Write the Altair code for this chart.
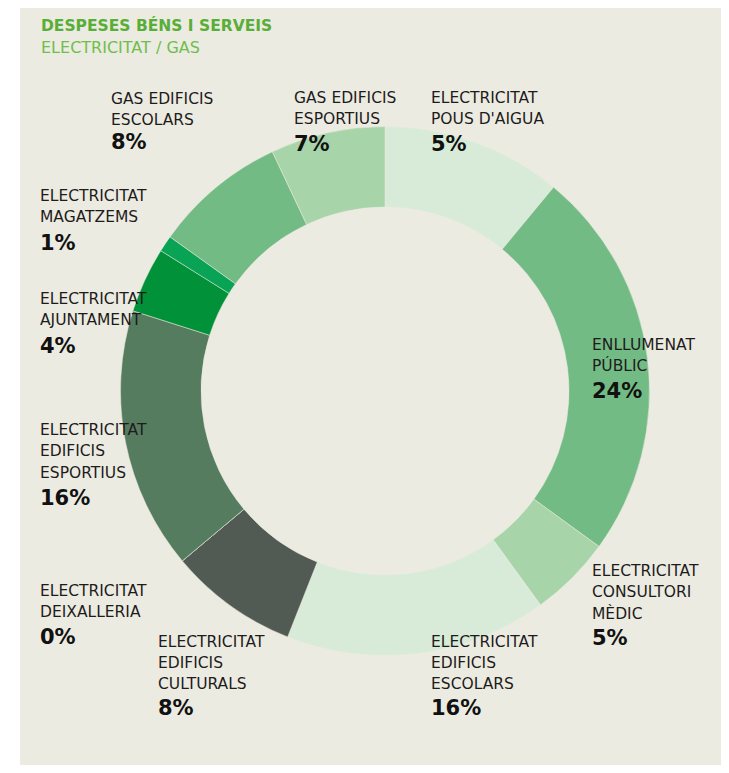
import altair as alt
import pandas as pd

# ---- data ----
categories = [
    "ELECTRICITAT POUS D'AIGUA",
    "ENLLUMENAT PÚBLIC",
    "ELECTRICITAT CONSULTORI MÈDIC",
    "ELECTRICITAT EDIFICIS ESCOLARS",
    "ELECTRICITAT EDIFICIS CULTURALS",
    "ELECTRICITAT DEIXALLERIA",
    "ELECTRICITAT EDIFICIS ESPORTIUS",
    "ELECTRICITAT AJUNTAMENT",
    "ELECTRICITAT MAGATZEMS",
    "GAS EDIFICIS ESCOLARS",
    "GAS EDIFICIS ESPORTIUS",
]
# angular share of each slice as drawn
shares = [11.0, 24.0, 5.0, 16.0, 7.9, 0.0, 16.0, 4.0, 1.0, 8.1, 7.0]
# percentages as printed on the labels
pct_labels = ["5%", "24%", "5%", "16%", "8%", "0%", "16%", "4%", "1%", "8%", "7%"]
label_text = [
    "ELECTRICITAT\nPOUS D'AIGUA",
    "ENLLUMENAT\nPÚBLIC",
    "ELECTRICITAT\nCONSULTORI\nMÈDIC",
    "ELECTRICITAT\nEDIFICIS\nESCOLARS",
    "ELECTRICITAT\nEDIFICIS\nCULTURALS",
    "ELECTRICITAT\nDEIXALLERIA",
    "ELECTRICITAT\nEDIFICIS\nESPORTIUS",
    "ELECTRICITAT\nAJUNTAMENT",
    "ELECTRICITAT\nMAGATZEMS",
    "GAS EDIFICIS\nESCOLARS",
    "GAS EDIFICIS\nESPORTIUS",
]
colors = [
    "#d8ebd8", "#73bb84", "#a8d4aa", "#d8ebd8", "#525b53", "#55705a",
    "#567c5f", "#009139", "#08a355", "#73bb84", "#a8d4aa",
]

# ---- layout (label anchors, page-ish pixels) ----
label_x = [432, 593, 593, 432, 159, 41, 41, 41, 41, 112, 295]
label_y1 = [97.5, 344, 570.5, 641, 641, 590, 429.5, 298, 195.5, 98, 97.5]
pct_y = [143, 390, 637, 707, 707, 636, 497, 345.5, 242, 141, 143]

W, H = 713, 757
OFF = 8
NAME_FS = 15.5
PCT_FS = 21
BG = "#ecebe1"

df = pd.DataFrame({
    "cat": categories,
    "share": shares,
    "order": list(range(len(categories))),
    "pct": pct_labels,
    "name": label_text,
    "lx": [v - OFF - 1 for v in label_x],
    "ly": [v - OFF + 0.36 * NAME_FS for v in label_y1],
    "py": [v - OFF + 0.36 * PCT_FS for v in pct_y],
})

color_scale = alt.Scale(domain=categories, range=colors)

base = alt.Chart(df)

arcs = base.mark_arc(
    outerRadius=264.5, innerRadius=184, stroke=BG, strokeWidth=0.5
).encode(
    theta=alt.Theta("share:Q", stack=True),
    order=alt.Order("order:Q"),
    color=alt.Color("cat:N", scale=color_scale, legend=None),
    x=alt.value(385 - OFF),
    y=alt.value(391 - OFF),
)

names = base.mark_text(
    align="left", baseline="alphabetic", font="DejaVu Sans",
    fontSize=NAME_FS, lineBreak="\n", lineHeight=21.3, color="#1e1b1c",
).encode(
    x=alt.X("lx:Q", scale=None, axis=None),
    y=alt.Y("ly:Q", scale=None, axis=None),
    text="name:N",
)

pcts = base.mark_text(
    align="left", baseline="alphabetic", font="DejaVu Sans",
    fontSize=PCT_FS, fontWeight="bold", color="#111111",
).encode(
    x=alt.X("lx:Q", scale=None, axis=None),
    y=alt.Y("py:Q", scale=None, axis=None),
    text="pct:N",
)

title_df = pd.DataFrame({"t": ["DESPESES BÉNS I SERVEIS"]})
sub_df = pd.DataFrame({"t": ["ELECTRICITAT / GAS"]})

title = alt.Chart(title_df).mark_text(
    align="left", baseline="alphabetic", font="DejaVu Sans",
    fontSize=15.5, fontWeight="bold", color="#58ae36",
).encode(x=alt.value(41 - OFF), y=alt.value(25 - OFF + 5.6), text="t:N")

subtitle = alt.Chart(sub_df).mark_text(
    align="left", baseline="alphabetic", font="DejaVu Sans",
    fontSize=16, color="#6fbe4c",
).encode(x=alt.value(41 - OFF), y=alt.value(47.5 - OFF + 5.8), text="t:N")

strip = alt.Chart(title_df).mark_rect(color="white").encode(
    x=alt.value(0), x2=alt.value(20 - OFF), y=alt.value(0), y2=alt.value(H)
)

chart = alt.layer(strip, arcs, names, pcts, title, subtitle).properties(
    width=W, height=H, background=BG, padding=0,
    autosize=alt.AutoSizeParams(type="fit", contains="padding"),
).configure_view(stroke=None)

chart.save("out.html", embed_options={"renderer": "svg", "actions": False})
